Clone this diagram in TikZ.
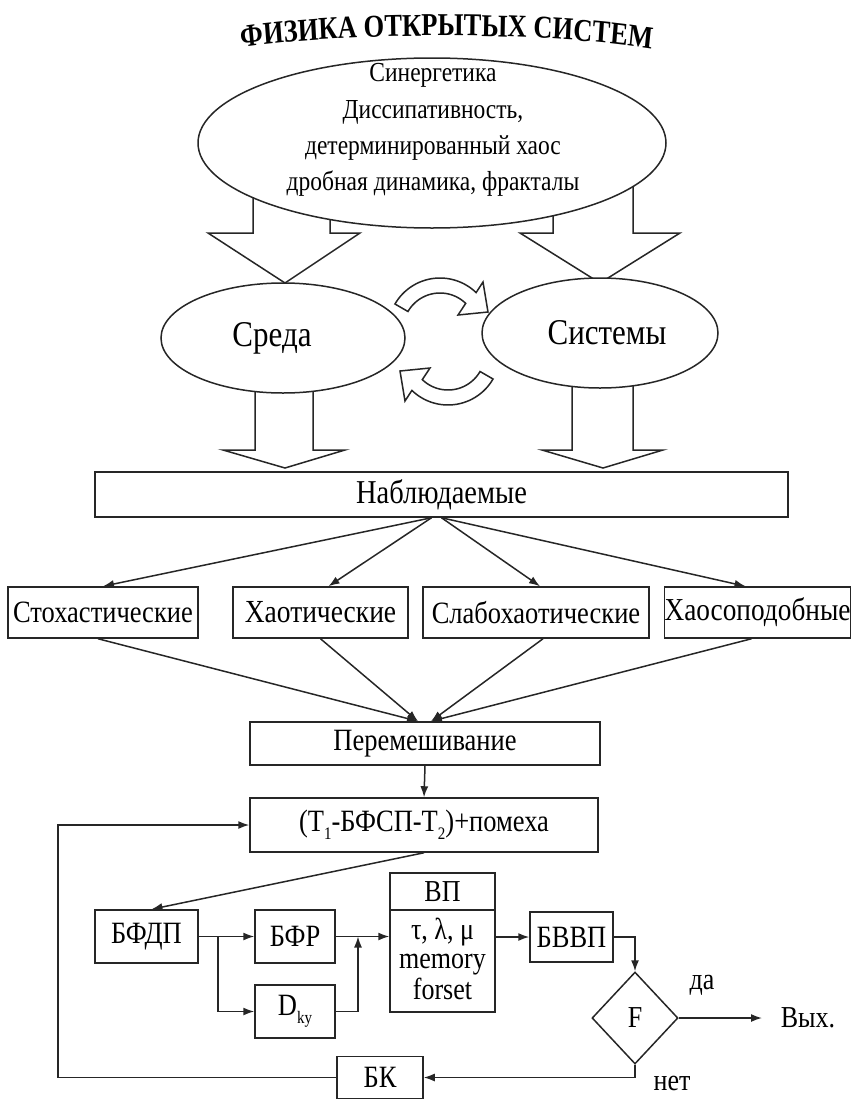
\documentclass[tikz,border=0pt]{standalone}
\usepackage{graphicx}
\usepackage{fontspec}
\setmainfont{Liberation Serif}
\usetikzlibrary{arrows.meta,shapes.geometric,decorations.text,calc}
\newcommand{\tall}[1]{\scalebox{1}[1.17]{#1}}
\newcommand{\lowidx}[1]{\raisebox{-7pt}{\fontsize{15}{15}\selectfont #1}}
\newcommand{\ttlfont}{\bfseries\fontsize{26.5}{27}\selectfont}
\begin{document}
\begin{tikzpicture}[x=1pt,y=-1pt,
  line width=1.5pt, draw=black!85,
  arr/.style={-{Latex[length=11pt,width=8pt]}},
  box/.style={draw, rectangle, inner sep=0pt, font=\fontsize{26.5}{30}\selectfont},
  oval/.style={draw, ellipse, inner sep=0pt, fill=white},
  blockarrow/.style={draw, fill=white, line join=miter},
  txt/.style={inner sep=0pt, font=\fontsize{26}{30}\selectfont, align=center}
]
\useasboundingbox (0,0) rectangle (851,1100);

% title along arc (stretched vertically like the reference)
\begin{scope}[transform canvas={yscale=1.2}]
\path[decorate, decoration={text along path, text align=center,
  text={|\ttlfont|ФИЗИКА ОТКРЫТЫХ СИСТЕМ}}]
  (226,42) .. controls (330,25.5) and (560,25.5) .. (667,43.5);
\end{scope}

% block arrows (drawn before the ellipses)
\draw[blockarrow] (253,180) -- (253,233) -- (208,233) -- (285,283) -- (360,233) -- (330,233) -- (330,180);
\draw[blockarrow] (553,180) -- (553,233) -- (520,233) -- (600,283) -- (680,233) -- (633,233) -- (633,180);
\draw[blockarrow] (255,380) -- (255,450) -- (223,450) -- (285,468) -- (345,450) -- (313,450) -- (313,380);
\draw[blockarrow] (572,375) -- (572,450) -- (542,450) -- (603,468) -- (663,450) -- (633,450) -- (633,375);

% ellipses
\node[oval, minimum width=468pt, minimum height=170pt] (phys) at (432,143) {};
\node[txt, font=\fontsize{23.5}{31}\selectfont] (physt) at (433,129)
  {\tall{\begin{tabular}{@{}c@{}}Синергетика\\Диссипативность,\\детерминированный хаос\\дробная динамика, фракталы\end{tabular}}};
\node[oval, minimum width=244pt, minimum height=110pt] (sreda) at (283,338) {};
\node[txt, font=\fontsize{31}{31}\selectfont] (sredat) at (272,338) {\tall{Среда}};
\node[oval, minimum width=236pt, minimum height=110pt] (sist) at (600,333) {};
\node[txt, font=\fontsize{31}{31}\selectfont] (sistt) at (607,333) {\tall{Системы}};

% circular arrows
\draw[blockarrow] plot[domain=210:314,samples=30] ({440+52*cos(\x)},{330+52*sin(\x)})
  -- (483,282) -- (488,312) -- (458,315)
  -- plot[domain=314:210,samples=30] ({440+37*cos(\x)},{330+37*sin(\x)}) -- cycle;
\draw[blockarrow] plot[domain=30:134,samples=30] ({448+52*cos(\x)},{353+52*sin(\x)})
  -- (405,401) -- (400,371) -- (430,368)
  -- plot[domain=134:30,samples=30] ({448+37*cos(\x)},{353+37*sin(\x)}) -- cycle;

% observables
\node[box, minimum width=693pt, minimum height=45pt, font=\fontsize{28.5}{30}\selectfont] (nabl) at (441.5,494.5) {\tall{Наблюдаемые}};
\node[box, minimum width=190pt, minimum height=51pt] (stoch) at (103,612.5) {\tall{Стохастические}};
\node[box, minimum width=175pt, minimum height=51pt, font=\fontsize{27.5}{30}\selectfont] (haot) at (320.5,612.5) {\tall{Хаотические}};
\node[box, minimum width=226pt, minimum height=51pt] (slab) at (536,612.5) {\tall{Слабохаотические}};
\node[box, minimum width=183pt, minimum height=51pt, font=\fontsize{27.3}{30}\selectfont] (haoso) at (757.5,612.5) {\tall{Хаосоподобные}};

\draw[arr] ([xshift=-10pt]nabl.south) -- (stoch.north);
\draw[arr] ([xshift=-10pt]nabl.south) -- ([xshift=8pt]haot.north);
\draw[arr] (nabl.south) -- ([xshift=4pt]slab.north);
\draw[arr] (nabl.south) -- ([xshift=-12pt]haoso.north);

\node[box, minimum width=350pt, minimum height=43pt] (perem) at (425,743.5) {\tall{Перемешивание}};
\draw[arr] ([xshift=-5pt]stoch.south) -- ([xshift=-7pt]perem.north);
\draw[arr] (haot.south) -- ([xshift=-7pt]perem.north);
\draw[arr] ([xshift=7pt]slab.south) -- ([xshift=6pt]perem.north);
\draw[arr] ([xshift=-6pt]haoso.south) -- ([xshift=6pt]perem.north);

\node[box, minimum width=348pt, minimum height=54pt, font=\fontsize{26.5}{30}\selectfont] (t1) at (424,825)
  {\tall{(T\lowidx{1}-БФСП-T\lowidx{2})+помеха}};
\draw[arr] (perem.south) -- (t1.north);

% lower block diagram
\node[box, minimum width=103pt, minimum height=53pt] (bfdp) at (146.5,936.5) {\tall{БФДП}};
\node[box, minimum width=80pt, minimum height=53pt] (bfr) at (295,936.5) {\tall{БФР}};
\node[box, minimum width=80pt, minimum height=53pt] (dky) at (295,1011.5) {\tall{D\lowidx{ky}}};
\node[box, minimum width=105pt, minimum height=139pt] (vp) at (442.5,942.5) {};
\draw (vp.west |- 0,910) -- (vp.east |- 0,910);
\node[txt] (vpt) at (442.5,891.5) {\tall{ВП}};
\node[txt, font=\fontsize{26}{25}\selectfont] (vpp) at (442.5,963)
  {\tall{\begin{tabular}{@{}c@{}}τ, λ, μ\\memory\\forset\end{tabular}}};
\node[box, minimum width=83pt, minimum height=50pt] (bvvp) at (571.5,937) {\tall{БВВП}};
\node[draw, diamond, minimum width=86pt, minimum height=92pt, inner sep=0pt, font=\fontsize{26}{30}\selectfont] (F) at (635,1018) {\tall{F}};
\node[box, minimum width=86pt, minimum height=42pt] (bk) at (380,1077.5) {\tall{БК}};
\node[txt, anchor=west] (vyh) at (780,1018) {\tall{Вых.}};
\node[txt] (da) at (702,985) {\tall{да}};
\node[txt] (net) at (672,1083) {\tall{нет}};

\draw[arr] (t1.south) -- ([xshift=5pt]bfdp.north);
\coordinate (split) at (218,936.5);
\coordinate (merge) at (358,936.5);
\draw[arr] (bfdp.east) -- (bfr.west);
\draw[arr] (split) |- (dky.west);
\draw[arr] (bfr.east) -- (bfr.east -| vp.west);
\draw[arr] (dky.east) -| (merge);
\draw[arr] (vp.east |- bvvp.west) -- (bvvp.west);
\draw[arr] (bvvp.east) -| (F.north);
\draw[arr] (F.east) -- ([xshift=-18pt]vyh.west);
\draw[arr] (F.south) |- (bk.east);
\coordinate (fb) at (58,1077.5);
\draw[arr] (bk.west) -- (fb) |- (t1.west);
\end{tikzpicture}
\end{document}
